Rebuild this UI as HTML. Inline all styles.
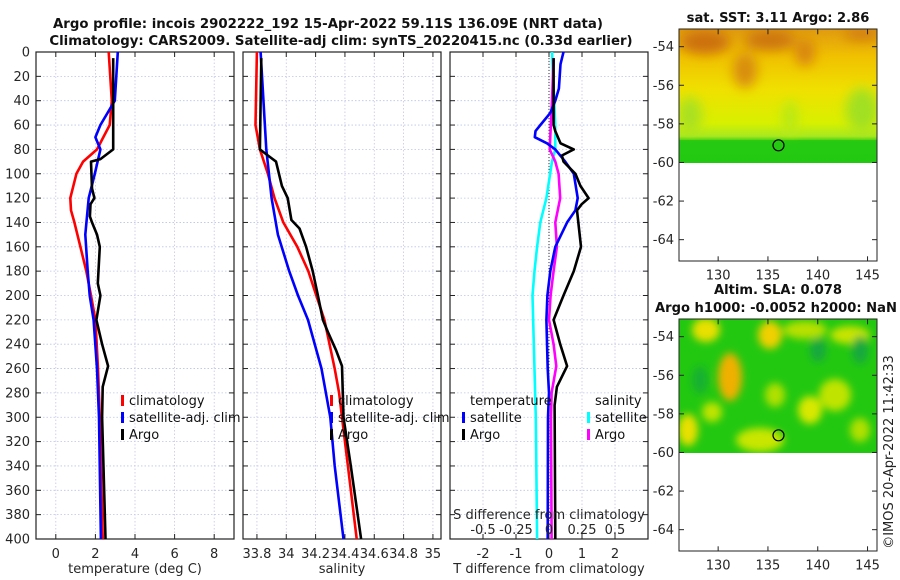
<!DOCTYPE html>
<html><head><meta charset="utf-8">
<style>
html,body{margin:0;padding:0;background:#fff;}
svg{display:block;font-family:"DejaVu Sans","Liberation Sans",sans-serif;}
</style></head>
<body>
<svg id="fig" width="900" height="580" viewBox="0 0 900 580" xmlns="http://www.w3.org/2000/svg">
<defs>
<filter id="blur6" x="-50%" y="-50%" width="200%" height="200%"><feGaussianBlur stdDeviation="6"/></filter>
<filter id="blur4" x="-50%" y="-50%" width="200%" height="200%"><feGaussianBlur stdDeviation="4"/></filter>
<linearGradient id="sstg" x1="0" y1="0" x2="0" y2="1">
<stop offset="0" stop-color="#e09a10"/><stop offset="0.2" stop-color="#f0c000"/><stop offset="0.45" stop-color="#f0e000"/><stop offset="0.7" stop-color="#d8f000"/><stop offset="0.8" stop-color="#a8e820"/><stop offset="0.84" stop-color="#30cc10"/><stop offset="1" stop-color="#22cc10"/>
</linearGradient>
<clipPath id="clipSST"><rect x="679" y="29" width="198" height="134"/></clipPath>
<clipPath id="clipSLA"><rect x="679" y="319" width="198" height="134"/></clipPath>
</defs>
<text x="328" y="28" text-anchor="middle" font-size="13.3" font-weight="bold" fill="#111">Argo profile: incois 2902222_192 15-Apr-2022 59.11S 136.09E (NRT data)</text>
<text x="341" y="45" text-anchor="middle" font-size="13.3" font-weight="bold" fill="#111">Climatology: CARS2009. Satellite-adj clim: synTS_20220415.nc (0.33d earlier)</text>
<g id="panels"></g>

<!-- SST map -->
<text x="778" y="22" text-anchor="middle" font-size="13.1" font-weight="bold" fill="#111">sat. SST: 3.11 Argo: 2.86</text>
<g clip-path="url(#clipSST)">
<rect x="679" y="29" width="198" height="134" fill="url(#sstg)"/>
<g filter="url(#blur6)">
<ellipse cx="705" cy="42" rx="25" ry="12" fill="#cc7008"/>
<ellipse cx="770" cy="40" rx="25" ry="10" fill="#cc7410"/>
<ellipse cx="745" cy="70" rx="12" ry="18" fill="#d88c10"/>
<ellipse cx="805" cy="52" rx="10" ry="14" fill="#d88410"/>
<ellipse cx="862" cy="34" rx="18" ry="6" fill="#d07a10"/>
<ellipse cx="690" cy="115" rx="12" ry="18" fill="#a8e020"/>
<ellipse cx="862" cy="110" rx="16" ry="22" fill="#a0e020"/>
<ellipse cx="790" cy="118" rx="8" ry="18" fill="#b8e818"/>
</g>
<rect x="679" y="140" width="198" height="23" fill="#22c812" opacity="0.7"/>
</g>
<rect x="679" y="29" width="198" height="232" fill="none" stroke="#222" stroke-width="1"/>
<circle cx="778.5" cy="145.3" r="5.5" fill="none" stroke="#000" stroke-width="1.2"/>
<g id="map1axes"></g>

<!-- SLA map -->
<text x="778" y="294" text-anchor="middle" font-size="13.1" font-weight="bold" fill="#111">Altim. SLA: 0.078</text>
<text x="776" y="312" text-anchor="middle" font-size="13.1" font-weight="bold" fill="#111">Argo h1000: -0.0052 h2000: NaN</text>
<g clip-path="url(#clipSLA)">
<rect x="679" y="319" width="198" height="134" fill="#22c810"/>
<g filter="url(#blur4)">
<ellipse cx="706" cy="330" rx="14" ry="12" fill="#e8e000"/>
<ellipse cx="770" cy="335" rx="12" ry="14" fill="#f0d000"/>
<ellipse cx="730" cy="377" rx="12" ry="24" fill="#f0b000"/>
<ellipse cx="805" cy="330" rx="22" ry="9" fill="#b8e000"/>
<ellipse cx="850" cy="335" rx="20" ry="9" fill="#c8e400"/>
<ellipse cx="688" cy="430" rx="10" ry="16" fill="#e8e000"/>
<ellipse cx="760" cy="440" rx="24" ry="12" fill="#c8e600"/>
<ellipse cx="835" cy="395" rx="16" ry="16" fill="#c0e400"/>
<ellipse cx="860" cy="430" rx="10" ry="12" fill="#b0e000"/>
<ellipse cx="712" cy="412" rx="10" ry="10" fill="#c0e400"/>
<ellipse cx="810" cy="410" rx="12" ry="14" fill="#d8e800"/>
<ellipse cx="775" cy="395" rx="10" ry="12" fill="#b0e000"/>
<ellipse cx="818" cy="350" rx="8" ry="12" fill="#18a840"/>
<ellipse cx="860" cy="350" rx="8" ry="14" fill="#18a840"/>
<ellipse cx="700" cy="380" rx="8" ry="14" fill="#18b030"/>
</g>
</g>
<rect x="679" y="319" width="198" height="232" fill="none" stroke="#222" stroke-width="1"/>
<circle cx="778.5" cy="435.3" r="5.5" fill="none" stroke="#000" stroke-width="1.2"/>
<g id="map2axes"></g>
<text transform="translate(893,452) rotate(-90)" text-anchor="middle" font-size="13" fill="#222">©IMOS 20-Apr-2022 11:42:33</text>
</svg>
<script>
// ---------- data ----------
const depthClimT = [0,40,60,80,90,100,120,130,140,160,180,200,220,260,300,400];
const climT = [2.67,2.83,2.72,2.08,1.38,1.04,0.73,0.77,0.94,1.24,1.54,1.78,2.0,2.13,2.22,2.37];
const depthSatT = [0,40,60,70,80,100,120,150,180,200,220,260,300,400];
const satT = [3.13,2.98,2.25,2.0,2.25,1.97,1.66,1.49,1.61,1.71,1.91,2.08,2.18,2.28];
const depthArgoT = [5,80,88,90,112,120,125,135,140,150,160,190,200,220,240,258,275,300,400];
const argoT = [2.9,2.9,2.25,1.78,1.83,1.95,1.75,1.72,1.83,2.08,2.22,2.12,2.25,2.05,2.34,2.64,2.37,2.34,2.51];

const depthClimS = [0,60,80,100,120,140,160,180,200,220,260,280,300,340,400];
const climS = [33.80,33.79,33.82,33.875,33.92,33.98,34.075,34.15,34.205,34.26,34.33,34.36,34.38,34.42,34.48];
const depthSatS = [0,80,120,150,180,200,220,260,300,340,400];
const satS = [33.825,33.864,33.90,33.943,34.02,34.08,34.148,34.24,34.30,34.33,34.39];
const depthArgoS = [5,80,85,90,110,120,138,145,160,180,200,220,230,245,258,300,340,400];
const argoS = [33.83,33.82,33.875,33.93,33.97,34.01,34.035,34.09,34.135,34.18,34.216,34.25,34.284,34.34,34.38,34.39,34.44,34.51];

const depthSatTd = [0,10,30,40,50,60,65,70,75,80,90,100,120,130,140,160,180,200,220,260,280,300,400];
const satTdiff = [0.44,0.35,0.3,0.19,0.04,-0.26,-0.41,-0.43,-0.06,0.19,0.49,0.75,0.87,0.8,0.55,0.19,0.04,-0.05,-0.08,-0.04,0.0,-0.03,-0.04];
const depthArgoTd = [5,60,65,75,80,85,90,100,110,120,125,130,160,180,200,220,240,258,275,290,400];
const argoTdiff = [0.14,0.14,0.19,0.35,0.75,0.39,0.44,0.8,0.95,1.2,0.99,0.85,0.97,0.75,0.44,0.14,0.34,0.55,0.24,0.17,0.19];
const depthSatSd = [0,60,80,90,120,140,160,180,200,300,400];
const satSdiff = [0.023,0.048,0.048,0.023,-0.02,-0.066,-0.09,-0.11,-0.125,-0.10,-0.09];
const depthArgoSd = [5,40,80,90,100,120,140,160,180,200,220,240,258,280,300,400];
const argoSdiff = [0.035,0.023,0.005,0.048,0.073,0.085,0.048,0.06,0.035,0.012,0.0,0.035,0.055,0.02,0.015,0.02];

const depthTicks = [0,20,40,60,80,100,120,140,160,180,200,220,240,260,280,300,320,340,360,380,400];
const tTicks = [0,2,4,6,8];
const sTicks = [33.8,34,34.2,34.4,34.6,34.8,35];
const sTickLabels = ["33.8","34","34.2","34.4","34.6","34.8","35"];
const dTTicks = [-2,-1,0,1,2];
const dSTicks = [-0.5,-0.25,0,0.25,0.5];
const latTicks = [-54,-56,-58,-60,-62,-64];
const lonTicks = [130,135,140,145];

// ---------- helpers ----------
const NS = "http://www.w3.org/2000/svg";
const root = document.getElementById('panels');
function mk(tag, attrs, parent, txt){
  const e = document.createElementNS(NS, tag);
  for (const k in attrs) e.setAttribute(k, attrs[k]);
  if (txt !== undefined) e.textContent = txt;
  (parent || root).appendChild(e);
  return e;
}
const Y0 = 52, Y1 = 539;
const yD = d => Y0 + d/400*(Y1-Y0);

function panel(name, x0, x1, xmin, xmax, ticks, labels, xlabel){
  const g = mk('g', {});
  
  
  const xs = v => x0 + (v-xmin)/(xmax-xmin)*(x1-x0);
  depthTicks.forEach(d => {
    if (d>0 && d<400){
      const l = mk('line',{x1:x0,x2:x1,y1:yD(d),y2:yD(d),stroke:'#b9c3ea','stroke-width':0.8,'stroke-dasharray':'1.5,2'},g);
      
      
    }
    mk('line',{x1:x0,x2:x0+5,y1:yD(d),y2:yD(d),stroke:'#222'},g);
    mk('line',{x1:x1-5,x2:x1,y1:yD(d),y2:yD(d),stroke:'#222'},g);
  });
  ticks.forEach((t,i) => {
    const x = xs(t);
    const l = mk('line',{x1:x,x2:x,y1:Y0,y2:Y1,stroke:'#c9c3e6','stroke-width':0.8,'stroke-dasharray':'1.5,2'},g);
    
    
    mk('line',{x1:x,x2:x,y1:Y1-5,y2:Y1,stroke:'#222'},g);
    mk('line',{x1:x,x2:x,y1:Y0,y2:Y0+5,stroke:'#222'},g);
    const tl = mk('text',{x:x,y:558,'text-anchor':'middle','font-size':13,fill:'#262626'},g,labels[i]);
    
    
  });
  mk('rect',{x:x0,y:Y0,width:x1-x0,height:Y1-Y0,fill:'none',stroke:'#222','stroke-width':1.2},g);
  const xl = mk('text',{x:(x0+x1)/2,y:573,'text-anchor':'middle','font-size':13,fill:'#262626'},g,xlabel);
  
  
  return {g, xs};
}
function series(p, depths, vals, color, name, scale){
  const pts = depths.map((d,i) => (p.xs(vals[i]*(scale||1))).toFixed(1)+','+yD(d).toFixed(1)).join(' ');
  const l = mk('polyline',{points:pts,fill:'none',stroke:color,'stroke-width':2.6,'stroke-linejoin':'round'},p.g);
  
  
}
function legendEntry(g, x, y, color, label, name){
  const e = mk('g',{},g);
  
  
  mk('rect',{x:x,y:y-10,width:3,height:11,fill:color},e);
  mk('text',{x:x+8,y:y,'font-size':13,fill:'#111'},e,label);
}

// y tick labels
depthTicks.forEach(d => {
  const t = mk('text',{x:30,y:yD(d)+4.5,'text-anchor':'end','font-size':13,fill:'#262626'},root,String(d));
  
  
});

// panel 1 temperature
const p1 = panel('temperature-panel', 36, 234, -1, 9, tTicks, tTicks.map(String), 'temperature (deg C)');
series(p1, depthClimT, climT, '#ff0000', 'climatology-temperature-line');
series(p1, depthSatT, satT, '#0000ff', 'satellite-temperature-line');
series(p1, depthArgoT, argoT, '#000000', 'argo-temperature-line');
legendEntry(p1.g, 121, 405, '#ff0000', 'climatology', 'legend-climatology');
legendEntry(p1.g, 121, 422, '#0000ff', 'satellite-adj. clim', 'legend-satellite');
legendEntry(p1.g, 121, 439, '#000000', 'Argo', 'legend-argo');

// panel 2 salinity
const p2 = panel('salinity-panel', 243, 441, 33.705, 35.055, sTicks, sTickLabels, 'salinity');
series(p2, depthClimS, climS, '#ff0000', 'climatology-salinity-line');
series(p2, depthSatS, satS, '#0000ff', 'satellite-salinity-line');
series(p2, depthArgoS, argoS, '#000000', 'argo-salinity-line');
legendEntry(p2.g, 330, 405, '#ff0000', 'climatology', 'legend-climatology-s');
legendEntry(p2.g, 330, 422, '#0000ff', 'satellite-adj. clim', 'legend-satellite-s');
legendEntry(p2.g, 330, 439, '#000000', 'Argo', 'legend-argo-s');

// panel 3 differences
const p3 = panel('difference-panel', 450, 648, -3, 3, dTTicks, dTTicks.map(String), 'T difference from climatology');
const z = mk('line',{x1:p3.xs(0),x2:p3.xs(0),y1:Y0,y2:Y1,stroke:'#333','stroke-width':1,'stroke-dasharray':'1,2'},p3.g);


series(p3, depthSatSd, satSdiff, '#00ffff', 'satellite-salinity-diff-line', 4);
series(p3, depthArgoSd, argoSdiff, '#ff00ff', 'argo-salinity-diff-line', 4);
series(p3, depthSatTd, satTdiff, '#0000ff', 'satellite-temperature-diff-line');
series(p3, depthArgoTd, argoTdiff, '#000000', 'argo-temperature-diff-line');
dSTicks.forEach(s => {
  const x = p3.xs(s*4);
  const t = mk('text',{x:x,y:534,'text-anchor':'middle','font-size':13,fill:'#262626'},p3.g,String(s));
  
  
  mk('line',{x1:x,x2:x,y1:Y1-5,y2:Y1,stroke:'#222'},p3.g);
});
const st = mk('text',{x:549,y:519,'text-anchor':'middle','font-size':13,fill:'#262626'},p3.g,'S difference from climatology');


const lt = mk('text',{x:470,y:405,'font-size':13,fill:'#111'},p3.g,'temperature');


const ls = mk('text',{x:595,y:405,'font-size':13,fill:'#111'},p3.g,'salinity');


legendEntry(p3.g, 462, 422, '#0000ff', 'satellite', 'legend-t-satellite');
legendEntry(p3.g, 462, 439, '#000000', 'Argo', 'legend-t-argo');
legendEntry(p3.g, 587, 422, '#00ffff', 'satellite', 'legend-s-satellite');
legendEntry(p3.g, 587, 439, '#ff00ff', 'Argo', 'legend-s-argo');

// map axes
function mapAxes(id, top){
  const g = document.getElementById(id);
  const yl = lat => top + (-53.1 - lat)*19.3;
  const xl = lon => 679.3 + (lon-126.1)*9.96;
  latTicks.forEach(l => {
    const y = yl(l);
    mk('line',{x1:679,x2:684,y1:y,y2:y,stroke:'#222'},g);
    mk('line',{x1:872,x2:877,y1:y,y2:y,stroke:'#222'},g);
    const t = mk('text',{x:674,y:y+4.5,'text-anchor':'end','font-size':13,fill:'#262626'},g,String(l));
    
    
  });
  lonTicks.forEach(l => {
    const x = xl(l);
    mk('line',{x1:x,x2:x,y1:top+227,y2:top+232,stroke:'#222'},g);
    mk('line',{x1:x,x2:x,y1:top,y2:top+5,stroke:'#222'},g);
    const t = mk('text',{x:x,y:top+250,'text-anchor':'middle','font-size':13,fill:'#262626'},g,String(l));
    
    
  });
}
mapAxes('map1axes', 29.3);
mapAxes('map2axes', 319.3);
</script>
</body></html>
